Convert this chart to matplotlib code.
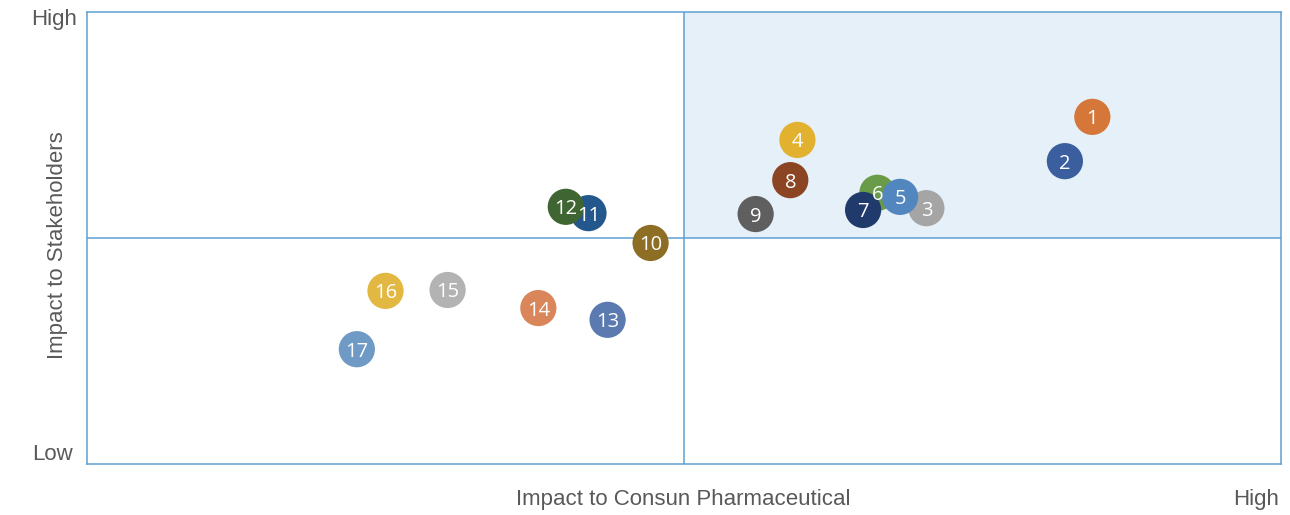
import matplotlib.pyplot as plt
import matplotlib.patches as mpatches

# Issue positions (0-100 scale on both axes)
labels = [str(i) for i in range(1, 18)]
x_vals = [84.2, 81.9, 70.3, 59.5, 68.1, 66.2, 65.0, 58.9, 56.0, 47.2, 42.0, 40.1, 43.6, 37.8, 30.2, 25.0, 22.6]
y_vals = [76.8, 67.0, 56.6, 71.7, 59.1, 60.0, 56.2, 62.8, 55.3, 48.9, 55.5, 56.9, 31.9, 34.5, 38.5, 38.3, 25.4]
colors = ["#D6773A", "#3B5F9E", "#A5A5A5", "#E3B130", "#5286BE", "#6A9B49", "#1F3A6B",
          "#8B4522", "#5F5F5F", "#8E6D25", "#24578B", "#3F6532", "#5B7AB0", "#D8865A",
          "#B3B3B3", "#E2B842", "#6F9AC5"]
draw_order = [0, 1, 2, 3, 5, 4, 6, 7, 8, 9, 10, 11, 12, 13, 14, 15, 16]

LINE = "#5FA0D2"
TEXT = "#595959"

fig = plt.figure(figsize=(12.9, 5.15), dpi=100, facecolor="white")
ax = fig.add_axes([87 / 1290, 1 - 464 / 515, 1194 / 1290, 452 / 515])
ax.set_xlim(0, 100)
ax.set_ylim(0, 100)

# shaded high/high quadrant
ax.add_patch(mpatches.Rectangle((50, 50), 50, 50, facecolor="#E5F0F8", edgecolor="none", zorder=0))
ax.axvline(50, color=LINE, lw=1.1, zorder=1)
ax.axhline(50, color=LINE, lw=1.1, zorder=1)

for k, i in enumerate(draw_order):
    ax.scatter(x_vals[i], y_vals[i], s=680, color=colors[i], edgecolors="none", zorder=3 + k)
# labels sit above every bubble
for i in range(len(labels)):
    ax.text(x_vals[i], y_vals[i], labels[i], color="white", fontsize=14.5, family="Open Sans",
            ha="center", va="center_baseline", zorder=50)

for s in ax.spines.values():
    s.set_color(LINE)
    s.set_linewidth(1.1)
ax.set_xticks([])
ax.set_yticks([])

fs = 16
fam = "Liberation Sans"
fig.text(77 / 1290, 1 - 19 / 515, "High", ha="right", va="center", fontsize=fs, color=TEXT, family=fam)
fig.text(73 / 1290, 1 - 455 / 515, "Low", ha="right", va="center", fontsize=fs, color=TEXT, family=fam)
fig.text(683 / 1290, 1 - 499 / 515, "Impact to Consun Pharmaceutical", ha="center", va="center",
         fontsize=fs, color=TEXT, family=fam)
fig.text(1279 / 1290, 1 - 499 / 515, "High", ha="right", va="center", fontsize=fs, color=TEXT, family=fam)
fig.text(57 / 1290, 1 - 245 / 515, "Impact to Stakeholders", ha="center", va="center", rotation=90,
         fontsize=fs, color=TEXT, family=fam)

fig.savefig("out.png", dpi=100, facecolor="white")
